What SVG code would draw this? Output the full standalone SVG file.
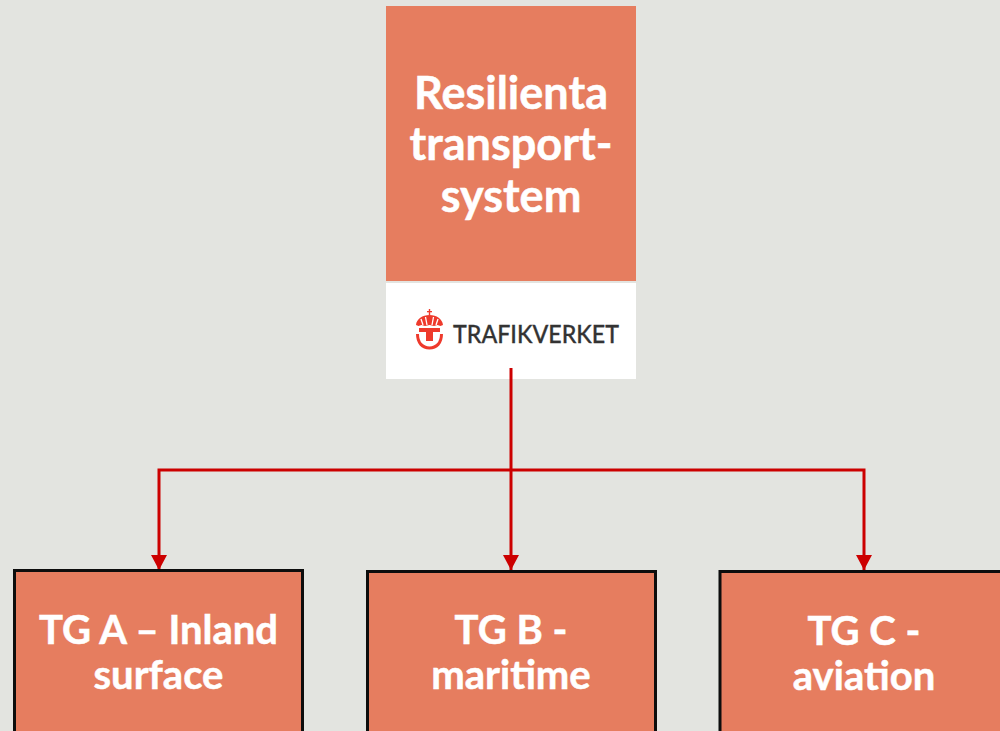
<svg xmlns="http://www.w3.org/2000/svg" width="1000" height="731" viewBox="0 0 1000 731">
<style>
.box{fill:#e67d5f}
.tg{stroke:#0d0d0d;stroke-width:3}
.t{font-family:"Lato","Open Sans","Liberation Sans",sans-serif;font-weight:700;fill:#fff;stroke:#fff;stroke-width:.5;text-anchor:middle}
.c{fill:none;stroke:#cc0000;stroke-width:3}
.logo{fill:#ee3a2c}
</style>
<defs><marker id="a" markerUnits="userSpaceOnUse" markerWidth="16" markerHeight="16" refX="15" refY="8" orient="auto"><path d="M0 0L15 8L0 16z" fill="#cc0000"/></marker></defs>
<rect width="1000" height="731" fill="#e3e4e0"/>
<g id="root">
<rect class="box" x="386" y="6" width="250" height="275"/>
<rect x="386" y="283" width="250" height="96" fill="#fff"/>
<text class="t" font-size="45" x="511" y="109">Resilienta</text>
<text class="t" font-size="45" x="511" y="160">transport-</text>
<text class="t" font-size="45" x="511" y="212">system</text>
<g id="logo">
<path class="logo" d="M429.500 315c-7 0-13 4-13.500 10l2.500 1 3-1 3.500 1 4.500-1 4.500 1 3.500-1 3 1 2.500-1c-.5-6-6.500-10-13.500-10z"/>
<path d="M421 319l2 6M425.500 317l1.500 8M433.500 317l-1.500 8M438 319l-2 6" stroke="#fff" stroke-width="1.300" fill="none"/>
<rect class="logo" x="428.800" y="309" width="1.400" height="6"/>
<rect class="logo" x="427" y="311" width="5" height="1.300"/>
<path class="logo" d="M419 328h21v4h-7v9h-7v-9h-7z"/>
<path d="M417.500 334c0 9 5 14 12 14s12-5 12-14" fill="none" stroke="#ee3a2c" stroke-width="3"/>
<text x="453" y="343" font-family="Lato,'Open Sans',sans-serif" font-size="25" font-weight="500" fill="#333" stroke="#333" stroke-width=".3" textLength="166" lengthAdjust="spacingAndGlyphs">TRAFIKVERKET</text>
</g>
</g>
<g id="connectors">
<path class="c" d="M511 368V470"/>
<path class="c" marker-end="url(#a)" d="M511 470H159V570"/>
<path class="c" marker-end="url(#a)" d="M511 470V570"/>
<path class="c" marker-end="url(#a)" d="M511 470H864V570"/>
</g>
<g id="tga">
<rect class="box tg" x="14.500" y="570.500" width="288" height="175"/>
<text class="t" font-size="40" x="158.500" y="644">TG A – Inland</text>
<text class="t" font-size="40" x="158.500" y="689">surface</text>
</g>
<g id="tgb">
<rect class="box tg" x="367.500" y="571.500" width="288" height="175"/>
<text class="t" font-size="40" x="511" y="644">TG B -</text>
<text class="t" font-size="40" x="511" y="689">maritime</text>
</g>
<g id="tgc">
<rect class="box tg" x="720" y="571.500" width="300" height="175"/>
<text class="t" font-size="40" x="864" y="645">TG C -</text>
<text class="t" font-size="40" x="864" y="690">aviation</text>
</g>
</svg>
